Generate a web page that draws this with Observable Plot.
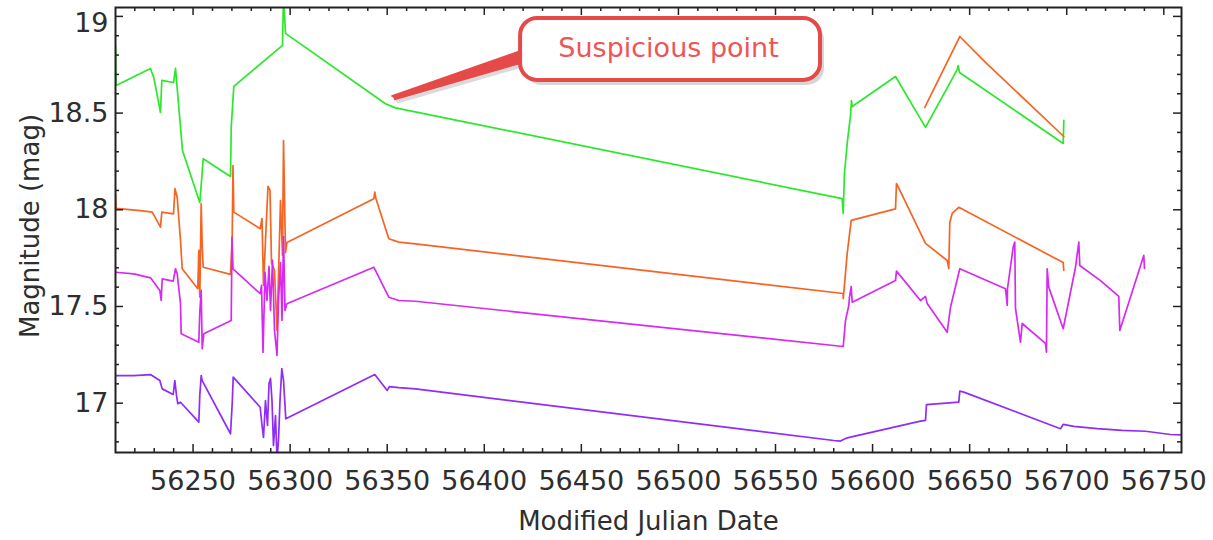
<!DOCTYPE html>
<html>
<head>
<meta charset="utf-8">
<script src="https://cdn.jsdelivr.net/npm/d3@7"></script>
<script src="https://cdn.jsdelivr.net/npm/@observablehq/plot@0.6"></script>
<style>
  html, body { margin: 0; padding: 0; background: #ffffff; }
  #chart svg { display: block; }
</style>
</head>
<body>
<div id="chart"></div>
<script>
// ---- data (Modified Julian Date, magnitude) ----
const greenMJD = [56210.05, 56210.31, 56228.08, 56229.88, 56233.23, 56233.90, 56239.93, 56240.96, 56241.83, 56243.02,
  56244.56, 56253.47, 56254.19, 56255.22, 56269.29, 56269.65, 56270.99, 56296.07, 56296.59, 56297.61,
  56349.12, 56354.27, 56584.35, 56584.87, 56585.54, 56586.93, 56588.63, 56589.15, 56589.51, 56611.81,
  56627.26, 56643.59, 56644.10, 56644.77, 56698.19, 56698.50];
const greenMag = [18.850, 18.643, 18.731, 18.679, 18.503, 18.669, 18.658, 18.731, 18.627, 18.488,
  18.307, 18.038, 18.126, 18.264, 18.172, 18.426, 18.638, 18.850, 19.108, 18.912,
  18.548, 18.527, 18.058, 17.981, 18.193, 18.343, 18.488, 18.565, 18.534, 18.689,
  18.426, 18.725, 18.746, 18.710, 18.343, 18.462];

const orangeMJD = [56210.05, 56210.31, 56222.93, 56228.96, 56233.23, 56233.90, 56239.93, 56240.70, 56241.83, 56243.53,
  56244.41, 56252.44, 56252.96, 56253.47, 56254.19, 56254.71, 56255.22, 56269.29, 56270.16, 56270.57,
  56270.99, 56284.58, 56285.51, 56286.28, 56287.31, 56288.60, 56289.63, 56290.40, 56291.95, 56293.24,
  56294.01, 56295.04, 56296.07, 56296.59, 56297.61, 56298.38, 56343.10, 56343.61, 56344.23, 56350.82,
  56355.97, 56364.57, 56584.87, 56584.90, 56586.93, 56588.99, 56611.81, 56612.32, 56627.26, 56638.44,
  56639.26, 56639.78, 56641.01, 56644.41, 56698.19, 56698.50];
const orangeMag = [18.084, 18.007, 17.996, 17.988, 17.910, 17.988, 17.979, 18.109, 18.065, 17.841,
  17.695, 17.592, 17.790, 17.548, 18.031, 17.815, 17.703, 17.666, 17.858, 18.229,
  17.988, 17.902, 17.955, 17.609, 17.841, 18.121, 18.100, 17.727, 17.686, 17.376,
  17.660, 18.048, 17.764, 18.358, 17.779, 17.831, 18.057, 18.091, 18.057, 17.850,
  17.833, 17.824, 17.567, 17.541, 17.774, 17.945, 18.005, 18.136, 17.826, 17.738,
  17.697, 17.936, 17.981, 18.013, 17.727, 17.686];

const orangeUpperMJD = [56626.90, 56644.92, 56658.16, 56698.50];
const orangeUpperMag = [18.529, 18.896, 18.762, 18.379];

const magentaMJD = [56210.05, 56219.48, 56228.08, 56232.87, 56233.59, 56234.11, 56239.77, 56240.96, 56241.83, 56243.53,
  56243.89, 56252.96, 56253.47, 56254.19, 56254.71, 56255.53, 56269.65, 56270.06, 56270.57, 56284.58,
  56285.25, 56286.03, 56287.06, 56288.09, 56289.12, 56289.89, 56290.92, 56291.95, 56293.24, 56294.01,
  56295.04, 56295.81, 56296.59, 56297.36, 56298.29, 56343.10, 56350.82, 56355.97, 56364.57, 56584.87,
  56586.06, 56587.75, 56588.11, 56588.99, 56589.51, 56611.81, 56612.32, 56624.68, 56627.26, 56628.13,
  56638.44, 56640.14, 56644.92, 56668.47, 56669.35, 56669.50, 56672.43, 56673.25, 56673.61, 56676.19,
  56677.06, 56689.06, 56689.57, 56689.93, 56690.75, 56698.19, 56704.52, 56706.22, 56706.73, 56717.40,
  56726.82, 56727.34, 56738.87, 56739.69, 56740.05];
const magentaMag = [17.677, 17.669, 17.648, 17.583, 17.531, 17.643, 17.631, 17.695, 17.669, 17.514,
  17.359, 17.315, 17.471, 17.583, 17.281, 17.359, 17.428, 17.857, 17.695, 17.566,
  17.609, 17.262, 17.676, 17.531, 17.707, 17.479, 17.738, 17.376, 17.247, 17.531,
  17.727, 17.428, 17.862, 17.479, 17.514, 17.703, 17.548, 17.531, 17.527, 17.293,
  17.428, 17.505, 17.548, 17.603, 17.522, 17.634, 17.683, 17.531, 17.552, 17.516,
  17.367, 17.496, 17.695, 17.592, 17.505, 17.593, 17.807, 17.833, 17.490, 17.315,
  17.412, 17.309, 17.264, 17.695, 17.600, 17.385, 17.703, 17.833, 17.712, 17.634,
  17.552, 17.376, 17.738, 17.764, 17.697];

const purpleMJD = [56210.05, 56219.48, 56228.08, 56232.87, 56234.11, 56239.77, 56240.60, 56241.47, 56242.14, 56243.53,
  56252.96, 56253.47, 56254.19, 56254.71, 56269.29, 56270.16, 56270.68, 56284.58, 56285.41, 56286.28,
  56287.31, 56288.34, 56289.12, 56289.89, 56290.66, 56291.43, 56292.46, 56293.24, 56294.01, 56294.78,
  56295.71, 56296.59, 56297.77, 56343.61, 56350.00, 56351.18, 56355.97, 56364.57, 56580.03, 56583.48,
  56586.93, 56624.68, 56627.26, 56627.77, 56644.41, 56644.92, 56646.99, 56696.79, 56698.19, 56703.64,
  56715.69, 56728.58, 56740.58, 56753.45, 56759.12];
const purpleMag = [17.143, 17.143, 17.148, 17.117, 17.074, 17.045, 17.117, 17.040, 16.997, 17.005,
  16.902, 17.040, 17.143, 17.117, 16.842, 16.997, 17.135, 16.979, 16.895, 16.823,
  17.014, 16.885, 17.102, 17.128, 17.014, 16.781, 16.936, 16.714, 16.807, 17.014,
  17.179, 17.117, 16.919, 17.148, 17.066, 17.086, 17.080, 17.074, 16.807, 16.804,
  16.821, 16.907, 16.911, 16.993, 17.005, 17.062, 17.057, 16.868, 16.890, 16.880,
  16.868, 16.859, 16.855, 16.838, 16.836];

// ---- axes ----
const xTickLabels = [56250, 56300, 56350, 56400, 56450, 56500, 56550, 56600, 56650, 56700, 56750];
const yTickLabels = [17, 17.5, 18, 18.5, 19];
const xMinorTicks = d3.range(56220, 56760, 10).filter(v => v % 50 !== 0);
const yMinorTicks = [16.8, 16.9, 17.1, 17.2, 17.3, 17.4, 17.6, 17.7, 17.8, 17.9, 18.1, 18.2, 18.3, 18.4, 18.6, 18.7, 18.8, 18.9];
const xTitle = "Modified Julian Date";
const yTitle = "Magnitude (mag)";

// ---- annotation ----
const calloutText = "Suspicious point";
const calloutBoxX = [56418.7, 56573.2];
const calloutBoxY = [18.669, 18.989];
const calloutTextAt = [56494.9, 18.834];
const pointerX = [56352.4, 56420.0, 56420.0, 56353.8];
const pointerY = [18.588, 18.826, 18.762, 18.570];

const toRows = (xs, ys) => xs.map((x, i) => ({mjd: x, mag: ys[i]}));
const series = [
  {rows: toRows(greenMJD, greenMag), color: "#2be82b"},
  {rows: toRows(orangeMJD, orangeMag), color: "#f56422"},
  {rows: toRows(orangeUpperMJD, orangeUpperMag), color: "#f56422"},
  {rows: toRows(magentaMJD, magentaMag), color: "#d62af2"},
  {rows: toRows(purpleMJD, purpleMag), color: "#8f2cf6"}
];

const W = 1213, H = 540;
const mL = 115, mR = 32, mT = 7, mB = 88;
const pw = W - mL - mR, ph = H - mT - mB;
const font = "DejaVu Sans";
const red = "#e54a48";
const ink = "#2e2e2e";

const box = [{x1: calloutBoxX[0], x2: calloutBoxX[1], y1: calloutBoxY[0], y2: calloutBoxY[1]}];
const pointer = pointerX.map((x, i) => ({x, y: pointerY[i]}));

const marks = [
  ...series.map(s => Plot.line(s.rows, {x: "mjd", y: "mag", stroke: s.color, strokeWidth: 1.7, clip: true})),
  // inward ticks
  Plot.tickY(yTickLabels, {y: d => d, insetRight: pw - 8, stroke: "#222", strokeWidth: 1.5}),
  Plot.tickY(yTickLabels, {y: d => d, insetLeft: pw - 8, stroke: "#222", strokeWidth: 1.5}),
  Plot.tickY(yMinorTicks, {y: d => d, insetRight: pw - 4, stroke: "#222", strokeWidth: 1.5}),
  Plot.tickY(yMinorTicks, {y: d => d, insetLeft: pw - 4, stroke: "#222", strokeWidth: 1.5}),
  Plot.tickX(xTickLabels, {x: d => d, insetTop: ph - 8, stroke: "#222", strokeWidth: 1.5}),
  Plot.tickX(xTickLabels, {x: d => d, insetBottom: ph - 8, stroke: "#222", strokeWidth: 1.5}),
  Plot.tickX(xMinorTicks, {x: d => d, insetTop: ph - 4, stroke: "#222", strokeWidth: 1.5}),
  Plot.tickX(xMinorTicks, {x: d => d, insetBottom: ph - 4, stroke: "#222", strokeWidth: 1.5}),
  Plot.frame({stroke: "#222", strokeWidth: 2}),
  // tick labels
  Plot.axisX(xTickLabels, {tickSize: 0, tickPadding: 18, fontSize: 27, fill: ink, tickFormat: d => String(d), label: null}),
  Plot.axisY(yTickLabels.filter(d => d < 19), {tickSize: 0, tickPadding: 7, fontSize: 27, fill: ink, tickFormat: d => String(d), label: null}),
  Plot.axisY(yTickLabels.filter(d => d >= 19), {tickSize: 0, tickPadding: 7, dy: 7, fontSize: 27, fill: ink, tickFormat: d => String(d), label: null}),
  // titles
  Plot.text([xTitle], {text: d => d, frameAnchor: "bottom", dy: 69, fontSize: 26, fill: ink, lineAnchor: "middle", textAnchor: "middle"}),
  Plot.text([yTitle], {text: d => d, frameAnchor: "left", dx: -85, dy: -4, rotate: -90, fontSize: 26, fill: ink, lineAnchor: "middle", textAnchor: "middle"}),
  // callout shadows
  Plot.line(pointer, {x: "x", y: "y", fill: "#000", fillOpacity: 0.14, stroke: "none", dx: 3, dy: 4}),
  Plot.rect(box, {x1: "x1", x2: "x2", y1: "y1", y2: "y2", rx: 17, fill: "#000", fillOpacity: 0.16, dx: 4, dy: 5}),
  // pointer and box
  Plot.line(pointer, {x: "x", y: "y", fill: red, stroke: red, strokeWidth: 1.5, strokeLinejoin: "round"}),
  Plot.rect(box, {x1: "x1", x2: "x2", y1: "y1", y2: "y2", rx: 17, fill: "white", stroke: red, strokeWidth: 4}),
  Plot.text([calloutText], {x: calloutTextAt[0], y: calloutTextAt[1], text: d => d, fontSize: 27, fill: "#ee5555"})
];

const chart = Plot.plot({
  width: W,
  height: H,
  marginLeft: mL,
  marginRight: mR,
  marginTop: mT,
  marginBottom: mB,
  style: {fontFamily: font, background: "#ffffff"},
  x: {domain: [56210.05, 56759.12], axis: null},
  y: {domain: [16.745, 19.046], axis: null},
  marks
});
document.getElementById("chart").appendChild(chart);
</script>
</body>
</html>
